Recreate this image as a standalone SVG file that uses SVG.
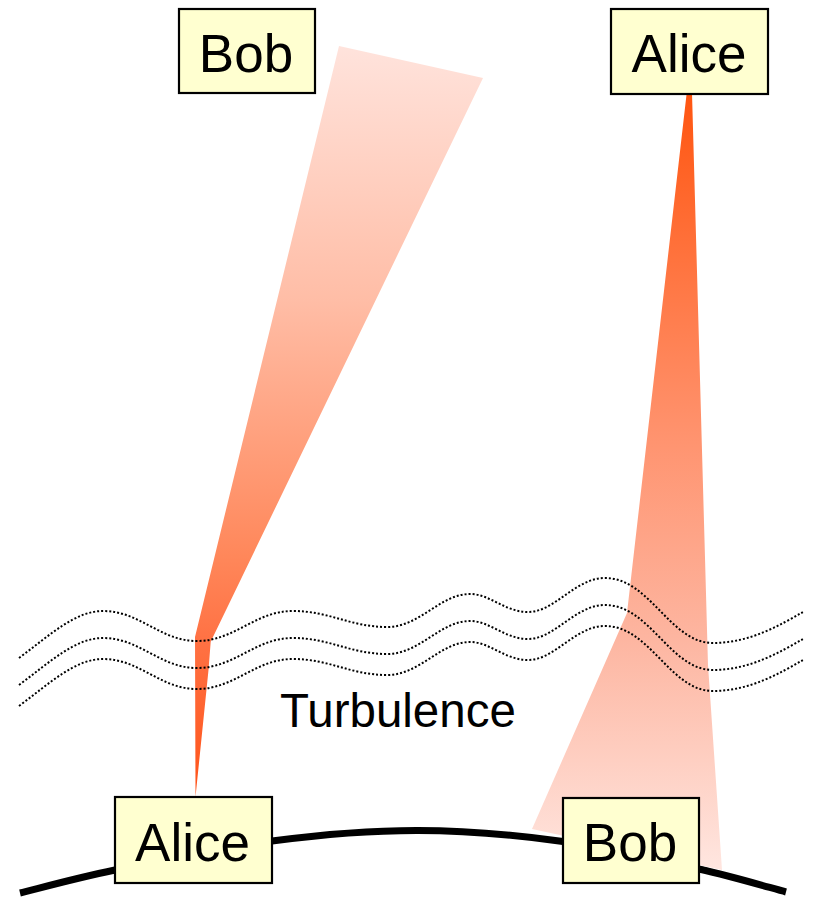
<svg xmlns="http://www.w3.org/2000/svg" width="814" height="897" viewBox="0 0 814 897">
  <style>
    .node rect { fill: #ffffd0; stroke: #000; stroke-width: 2.2; }
    .node text { font-family: "Liberation Sans", Arial, sans-serif; font-size: 53px; fill: #000; text-anchor: middle; }
    .wave { fill: none; stroke: #000; stroke-width: 2; stroke-dasharray: 2 2; }
    .label { font-family: "Liberation Sans", Arial, sans-serif; font-size: 47.5px; fill: #000; }
  </style>
  <defs>
    <!-- uplink: bright near the ground, fading as it spreads -->
    <linearGradient id="beamUp" gradientUnits="userSpaceOnUse" x1="0" y1="46" x2="0" y2="797">
      <stop offset="0" stop-color="#ffe3dc"/>
      <stop offset="0.34" stop-color="#ffbda6"/>
      <stop offset="0.68" stop-color="#ff875a"/>
      <stop offset="0.79" stop-color="#ff7244"/>
      <stop offset="1" stop-color="#ff5218"/>
    </linearGradient>
    <!-- downlink: bright at the satellite, fading toward the ground -->
    <linearGradient id="beamDown" gradientUnits="userSpaceOnUse" x1="0" y1="93" x2="0" y2="870">
      <stop offset="0" stop-color="#ff5510"/>
      <stop offset="0.15" stop-color="#ff6a30"/>
      <stop offset="0.45" stop-color="#ff9470"/>
      <stop offset="0.7" stop-color="#fdb5a0"/>
      <stop offset="1" stop-color="#ffe6e0"/>
    </linearGradient>
  </defs>

  <!-- ground -->
  <path id="earth" d="M20,893 C35.8,889.2 73,878.7 115,870 C157,861.3 221.5,847.6 272,841 C322.5,834.4 369.5,830.4 418,830.5 C466.5,830.6 516.2,835.1 563,841.5 C609.8,847.9 661.8,860.6 699,869 C736.2,877.4 771.5,888.2 786,892" fill="none" stroke="#000" stroke-width="7"/>

  <!-- beams -->
  <g id="connectors">
    <polygon id="uplink" points="339,46 483,78 210.7,641.7 208.5,670 195.5,797 195,637" fill="url(#beamUp)"/>
    <polygon id="downlink" points="686.7,93 692,93 708,665 722,870 532,829 627,613" fill="url(#beamDown)"/>
  </g>

  <!-- turbulent layer -->
  <g id="turbulence">
    <path class="wave" d="M19,658 C50,635 75,611 103,611 C140,611 160,641 197,641 C235,641 255,611 293,611 C330,611 350,627 387,627 C420,627 440,594 470,594 C490,594 505,612 528,612 C555,612 575,578 605,578 C650,578 670,643 713,643 C750,643 780,625 803,612"/>
    <path class="wave" transform="translate(0,27)" d="M19,658 C50,635 75,611 103,611 C140,611 160,641 197,641 C235,641 255,611 293,611 C330,611 350,627 387,627 C420,627 440,594 470,594 C490,594 505,612 528,612 C555,612 575,578 605,578 C650,578 670,643 713,643 C750,643 780,625 803,612"/>
    <path class="wave" transform="translate(0,48)" d="M19,658 C50,635 75,611 103,611 C140,611 160,641 197,641 C235,641 255,611 293,611 C330,611 350,627 387,627 C420,627 440,594 470,594 C490,594 505,612 528,612 C555,612 575,578 605,578 C650,578 670,643 713,643 C750,643 780,625 803,612"/>
    <text class="label" x="280" y="727">Turbulence</text>
  </g>

  <!-- stations -->
  <g id="bob-top" class="node">
    <rect x="179" y="9" width="136" height="84"/>
    <text x="246" y="72">Bob</text>
  </g>
  <g id="alice-top" class="node">
    <rect x="611" y="9" width="157" height="85"/>
    <text x="689" y="72">Alice</text>
  </g>
  <g id="alice-bottom" class="node">
    <rect x="115" y="797" width="157" height="86"/>
    <text x="192.5" y="861">Alice</text>
  </g>
  <g id="bob-bottom" class="node">
    <rect x="563" y="798" width="136" height="85"/>
    <text x="630" y="861">Bob</text>
  </g>
</svg>
